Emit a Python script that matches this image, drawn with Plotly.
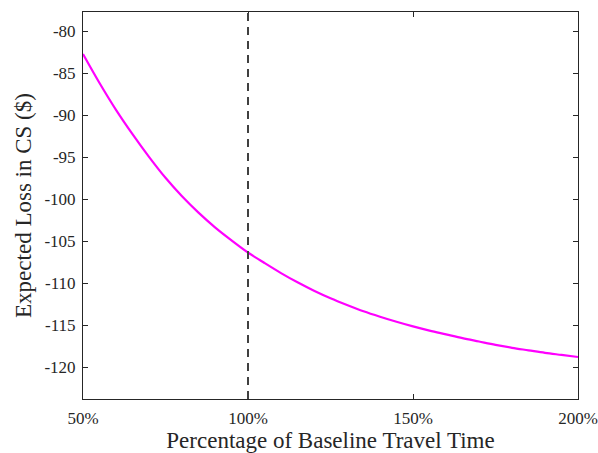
import plotly.graph_objects as go

# Percentage of baseline travel time (%)
pct = [50, 55, 60, 65, 70, 75, 80, 85, 90, 95, 100,
       105, 110, 115, 120, 125, 130, 135, 140, 145, 150,
       155, 160, 165, 170, 175, 180, 185, 190, 195, 200]
# Expected loss in consumer surplus ($)
loss = [-82.70, -86.15, -89.35, -92.25, -94.95, -97.45, -99.65, -101.60, -103.35, -104.90, -106.35,
        -107.60, -108.80, -109.90, -110.90, -111.80, -112.60, -113.35, -114.00, -114.60, -115.15,
        -115.65, -116.10, -116.55, -116.95, -117.35, -117.70, -118.00, -118.30, -118.55, -118.80]

baseline = 100

x_tickvals = [50, 100, 150, 200]
x_ticktext = ["50%", "100%", "150%", "200%"]
y_tickvals = [-80, -85, -90, -95, -100, -105, -110, -115, -120]
y_ticktext = ["-80", "-85", "-90", "-95", "-100", "-105", "-110", "-115", "-120"]

font_family = "Liberation Serif"
axis_color = "#262626"

fig = go.Figure()
fig.add_trace(go.Scatter(x=pct, y=loss, mode="lines",
                         line=dict(color="#ff00ff", width=2.2, shape="spline"),
                         showlegend=False, hoverinfo="skip"))

fig.add_shape(type="line", xref="x", yref="paper", x0=baseline, x1=baseline, y0=0, y1=1,
              line=dict(color="#404040", width=2, dash="8px,6px"), layer="above")

common = dict(showgrid=False, zeroline=False, showline=True, linecolor=axis_color, linewidth=1,
              mirror="ticks", ticks="inside", ticklen=5, tickwidth=1, tickcolor=axis_color,
              automargin=False,
              tickfont=dict(family=font_family, size=17, color="#262626"))

fig.update_xaxes(range=[50, 200], tickvals=x_tickvals, ticktext=x_ticktext, ticklabelstandoff=4,
                 title=dict(text="Percentage of Baseline Travel Time",
                            font=dict(family=font_family, size=23, color="#262626"), standoff=2),
                 **common)
fig.update_yaxes(range=[-123.8, -77.7], tickvals=y_tickvals, ticktext=y_ticktext, ticklabelstandoff=3,
                 title=dict(text="Expected Loss in CS ($)",
                            font=dict(family=font_family, size=23, color="#262626"), standoff=6),
                 **common)

fig.update_layout(width=598, height=453, margin=dict(l=83, r=20, t=12, b=54),
                  plot_bgcolor="white", paper_bgcolor="white",
                  font=dict(family=font_family))

fig.write_html("out.html", config={"displayModeBar": False},
               post_script="document.body.style.margin='0';document.body.style.padding='0';")
